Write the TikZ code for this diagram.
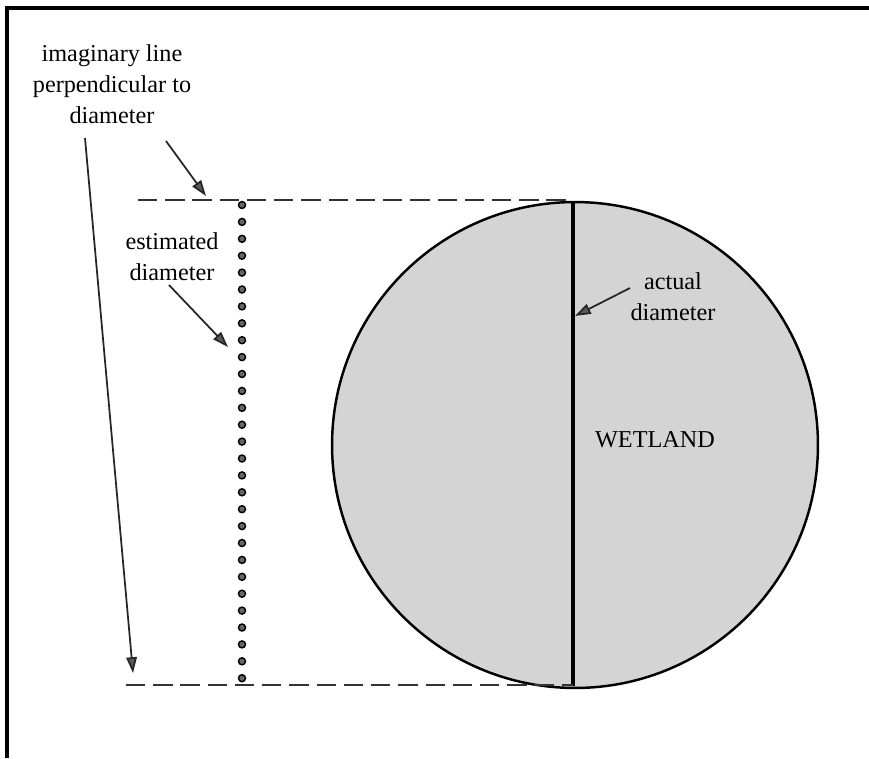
\documentclass[tikz,border=0pt]{standalone}
\usepackage{fontspec}
\setmainfont{Liberation Serif}
\usetikzlibrary{arrows.meta}

\tikzset{
  lbl/.style={align=center, inner sep=0pt, font=\fontsize{13.8}{17.6}\selectfont},
  pointer/.style={line width=1pt, draw=black!85,
    -{Triangle[length=9pt, width=6pt, fill=black!65]}},
  guide/.style={line width=1.4pt, draw=black!80, dash pattern=on 11pt off 4.5pt},
}

\begin{document}
\begin{tikzpicture}[x=0.02cm, y=-0.02cm, line cap=butt]
  \useasboundingbox (0,0) rectangle (869,758);
  % el marco
  \draw[line width=2pt] (7,758) -- (7,8) -- (869,8);
  % la zona humeda
  \filldraw[fill=black!17, line width=1.4pt] (575,445) circle (4.86cm);
  \coordinate (dtop) at (573,203);
  \coordinate (dbot) at (573,686);
  \draw[line width=2pt] (dtop) -- (dbot);
  % lineas imaginarias
  \coordinate (gtop) at (138,200);
  \coordinate (gbot) at (126,685);
  \draw[guide] (gtop) -- (dtop |- gtop);
  \draw[guide] (gbot) -- (dbot |- gbot);
  % diametro estimado, de puntos
  \foreach \i in {0,...,28} {
    \filldraw[fill=black!60, draw=black, line width=0.8pt] (242,205+\i*16.9) circle (2pt);
  }
  % textos
  \node[lbl] (imag) at (112,84) {imaginary line\\perpendicular to\\diameter};
  \node[lbl] (est) at (172,257) {estimated\\diameter};
  \node[lbl] (act) at (673,297) {actual\\diameter};
  \node[lbl] (wet) at (655,440) {WETLAND};
  % flechas
  \coordinate (p1) at (85,138);   \coordinate (t1) at (133,673);
  \coordinate (p2) at (166,141);  \coordinate (t2) at (206,196);
  \coordinate (p3) at (169,285);  \coordinate (t3) at (228,347);
  \coordinate (p4) at (630,288);  \coordinate (t4) at (575,316);
  \draw[pointer] (p1) -- (t1);
  \draw[pointer] (p2) -- (t2);
  \draw[pointer] (p3) -- (t3);
  \draw[pointer] (p4) -- (t4);
\end{tikzpicture}
\end{document}
